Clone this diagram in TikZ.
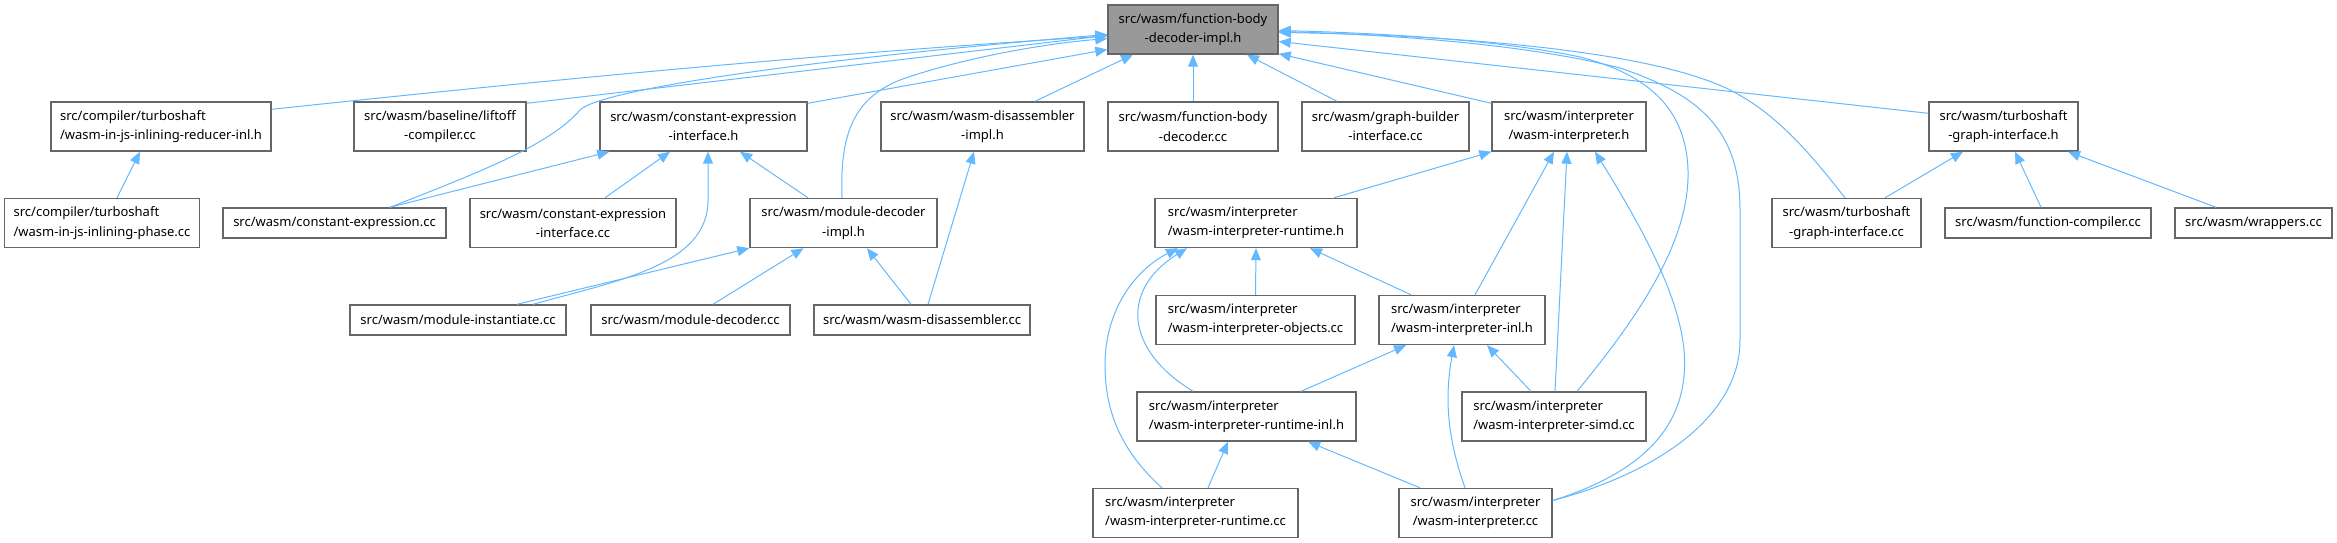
\documentclass[tikz,border=0pt]{standalone}
\usepackage{fontspec}
\setmainfont{Noto Sans}
\usetikzlibrary{arrows.meta,calc}
\definecolor{edgeblue}{HTML}{63B8FF}
\definecolor{boxgray}{HTML}{666666}
\definecolor{rootgray}{HTML}{999999}
\newcommand{\filefont}{\fontsize{13pt}{19.3pt}\selectfont}

\begin{document}
\begin{tikzpicture}[x=1pt,y=-1pt,
    file/.style={draw=boxgray,line width=1.4pt,fill=white,font=\filefont,
        inner xsep=3pt,inner ysep=0pt,minimum height=49pt,align=center,minimum width=#1},
    fileone/.style={file=#1,minimum height=30pt},
    fileleft/.style={file=#1,align=left},
    incl/.style={draw=edgeblue,line width=1pt,-{Triangle[length=12pt,width=10pt]}}]
        \useasboundingbox (0,0) rectangle (2337,543);

        % Header file at the top
        \node[file=170pt,fill=rootgray] (root) at (1193,29.5) {src/wasm/function-body\\-decoder-impl.h};

        % Row 1
        \node[fileleft=220pt] (reducer) at (161,126.5) {src/compiler/turboshaft\\/wasm-in-js-inlining-reducer-inl.h};
        \node[file=172pt] (liftoff) at (440,126.5) {src/wasm/baseline/liftoff\\-compiler.cc};
        \node[file=207pt] (cexprh) at (703.5,126.5) {src/wasm/constant-expression\\-interface.h};
        \node[file=203pt] (disasmh) at (982.5,126.5) {src/wasm/wasm-disassembler\\-impl.h};
        \node[file=170pt] (fbdcc) at (1193,126.5) {src/wasm/function-body\\-decoder.cc};
        \node[file=167pt] (graphb) at (1385.5,126.5) {src/wasm/graph-builder\\-interface.cc};
        \node[file=154pt] (interph) at (1569,126.5) {src/wasm/interpreter\\/wasm-interpreter.h};
        \node[file=149pt] (tsgih) at (2003.5,126.5) {src/wasm/turboshaft\\-graph-interface.h};

        % Row 2
        \node[fileleft=195pt] (phase) at (102,223) {src/compiler/turboshaft\\/wasm-in-js-inlining-phase.cc};
        \node[fileone=223pt] (cexprcc) at (334.5,223) {src/wasm/constant-expression.cc};
        \node[file=206pt] (cexprifcc) at (573,223) {src/wasm/constant-expression\\-interface.cc};
        \node[file=187pt] (moddecimpl) at (843.5,223) {src/wasm/module-decoder\\-impl.h};
        \node[fileleft=202pt] (runtimeh) at (1256,223) {src/wasm/interpreter\\/wasm-interpreter-runtime.h};
        \node[file=149pt] (tsgicc) at (1846.5,223) {src/wasm/turboshaft\\-graph-interface.cc};
        \node[fileone=206pt] (funccomp) at (2048,223) {src/wasm/function-compiler.cc};
        \node[fileone=157pt] (wrappers) at (2253.5,223) {src/wasm/wrappers.cc};

        % Row 3
        \node[fileone=216pt] (modinst) at (458,320) {src/wasm/module-instantiate.cc};
        \node[fileone=199pt] (moddeccc) at (690.5,320) {src/wasm/module-decoder.cc};
        \node[fileone=216pt] (disasmcc) at (922,320) {src/wasm/wasm-disassembler.cc};
        \node[fileleft=199pt] (objects) at (1255.5,320) {src/wasm/interpreter\\/wasm-interpreter-objects.cc};
        \node[fileleft=166pt] (interpinl) at (1462,320) {src/wasm/interpreter\\/wasm-interpreter-inl.h};

        % Row 4
        \node[fileleft=219pt] (runtimeinl) at (1246.5,416.5) {src/wasm/interpreter\\/wasm-interpreter-runtime-inl.h};
        \node[fileleft=184pt] (simd) at (1554,416.5) {src/wasm/interpreter\\/wasm-interpreter-simd.cc};

        % Row 5
        \node[fileleft=205pt] (runtimecc) at (1195.5,513) {src/wasm/interpreter\\/wasm-interpreter-runtime.cc};
        \node[file=153pt] (interpcc) at (1475.5,513) {src/wasm/interpreter\\/wasm-interpreter.cc};

        % Edges into the top header
        \draw[incl] ($(reducer.north east)+(0,8)$) .. controls (500,85) and (800,55) .. ($(root.west)+(0,6.5)$);
        \draw[incl] ($(liftoff.north east)+(0,2)$) -- ($(root.west)+(0,6)$);
        \draw[incl] ($(cexprcc.north)+(55.5,0)$) .. controls (480,172) and (550,145) .. (580,110)
            .. controls (600,90) and (800,60) .. ($(root.west)+(0,5)$);
        \draw[incl] ($(cexprh.north east)+(0,2)$) -- ($(root.west)+(0,20)$);
        \draw[incl] ($(moddecimpl.north)+(-1.5,0)$) .. controls (840,140) and (850,100) .. (900,80)
            .. controls (950,62) and (1030,45) .. ($(root.west)+(0,9)$);
        \draw[incl] ($(disasmh.north)+(52.5,0)$) -- ($(root.south)+(-60,0)$);
        \draw[incl] (fbdcc.north) -- (root.south);
        \draw[incl] ($(graphb.north)+(-48.5,0)$) -- ($(root.south)+(54,0)$);
        \draw[incl] ($(interph.north west)+(0,2)$) -- ($(root.south east)+(0,-1)$);
        \draw[incl] ($(tsgih.north west)+(0,12)$) -- ($(root.east)+(0,12)$);
        \draw[incl] ($(tsgicc.north)+(-1.5,0)$) .. controls (1815,160) and (1780,115) .. (1730,90)
            .. controls (1650,50) and (1450,35) .. ($(root.east)+(0,3)$);
        \draw[incl] ($(simd.north)+(23,0)$) .. controls (1640,315) and (1690,240) .. (1688,170)
            .. controls (1686,110) and (1650,75) .. (1580,57)
            .. controls (1500,40) and (1380,33) .. ($(root.east)+(0,1)$);
        \draw[incl] ($(interpcc.east)+(0,-12.5)$) .. controls (1650,475) and (1740,420) .. (1740,340)
            -- (1740,210) .. controls (1740,130) and (1700,95) .. (1620,68)
            .. controls (1530,45) and (1400,35) .. ($(root.east)+(0,2)$);

        % Left part
        \draw[incl] ($(phase.north)+(15,0)$) -- ($(reducer.south)+(-21,0)$);
        \draw[incl] ($(cexprcc.north)+(55.5,0)$) -- ($(cexprh.south west)+(10,0)$);
        \draw[incl] ($(cexprifcc.north)+(32,0)$) -- ($(cexprh.south)+(-33.5,0)$);
        \draw[incl] ($(moddecimpl.north)+(-35.5,0)$) -- ($(cexprh.south)+(36.5,0)$);
        \draw[incl] ($(modinst.north)+(75,0)$) .. controls (620,280) and (708,265) .. (708,200)
            -- ($(cexprh.south)+(4.5,0)$);
        \draw[incl] ($(modinst.north)+(59,0)$) -- (moddecimpl.south west);
        \draw[incl] ($(moddeccc.north)+(22.5,0)$) -- ($(moddecimpl.south)+(-40,0)$);
        \draw[incl] ($(disasmcc.north)+(-11,0)$) -- ($(moddecimpl.south)+(23.5,0)$);
        \draw[incl] ($(disasmcc.north)+(6,0)$) -- ($(disasmh.south)+(-8.5,0)$);

        % Interpreter part
        \draw[incl] ($(runtimeh.north)+(78,0)$) -- (interph.south west);
        \draw[incl] ($(interpinl.north)+(13,0)$) -- ($(interph.south)+(-15,0)$);
        \draw[incl] ($(simd.north)+(1,0)$) -- ($(interph.south)+(-2,0)$);
        \draw[incl] ($(interpcc.east)+(0,-12.5)$) .. controls (1650,470) and (1690,420) .. (1684,350)
            .. controls (1679,300) and (1650,240) .. ($(interph.south)+(26,0)$);
        \draw[incl] (objects.north) -- (runtimeh.south);
        \draw[incl] ($(interpinl.north)+(-51,0)$) -- ($(runtimeh.south)+(54,0)$);
        \draw[incl] ($(runtimeinl.north)+(-53.5,0)$) .. controls (1125,350) and (1120,290) .. ($(runtimeh.south)+(-69,0)$);
        \draw[incl] ($(runtimecc.north)+(-33.5,0)$) .. controls (1120,450) and (1105,410) .. (1105,365)
            .. controls (1105,310) and (1135,270) .. ($(runtimeh.south)+(-78,0)$);
        \draw[incl] ($(runtimeinl.north)+(54.5,0)$) -- ($(interpinl.south)+(-56,0)$);
        \draw[incl] ($(simd.north)+(-23,0)$) -- ($(interpinl.south)+(25,0)$);
        \draw[incl] ($(interpcc.north)+(-10.5,0)$) .. controls (1448,440) and (1444,400) .. ($(interpinl.south)+(-8,0)$);
        \draw[incl] ($(runtimecc.north)+(12.5,0)$) -- ($(runtimeinl.south)+(-18.5,0)$);
        \draw[incl] ($(interpcc.north)+(-55.5,0)$) -- ($(runtimeinl.south)+(61.5,0)$);

        % Turboshaft part
        \draw[incl] ($(tsgicc.north)+(38.5,0)$) -- ($(tsgih.south)+(-40.5,0)$);
        \draw[incl] ($(funccomp.north)+(-7,0)$) -- ($(tsgih.south)+(11.5,0)$);
        \draw[incl] ($(wrappers.north)+(-37.5,0)$) -- ($(tsgih.south)+(64.5,0)$);
    \end{tikzpicture}
\end{document}
